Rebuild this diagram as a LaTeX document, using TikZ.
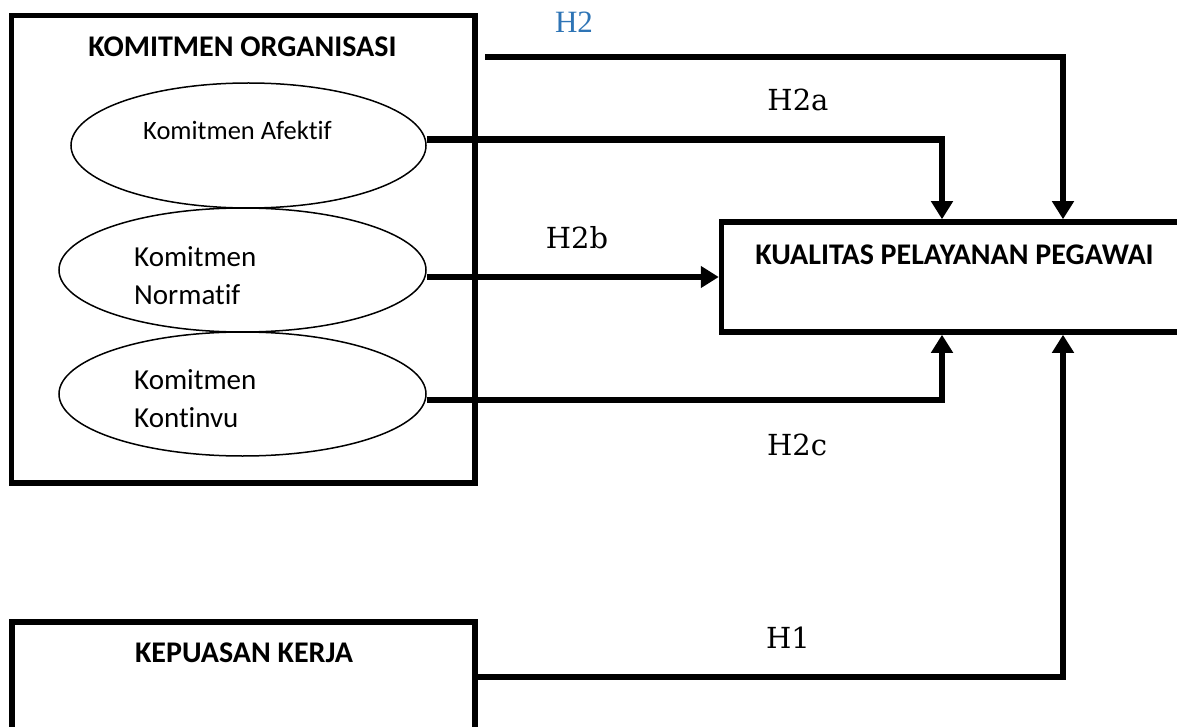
\documentclass[tikz,border=0pt]{standalone}
\usepackage{fontspec}
\setmainfont{Carlito}[Ligatures=NoCommon]
\newfontfamily\hypfont{DejaVu Serif}
\newfontfamily\hbluefont{Liberation Serif}
\usetikzlibrary{arrows.meta,shapes.geometric}
\definecolor{hblue}{RGB}{46,116,181}
\begin{document}
\begin{tikzpicture}[x=1pt,y=-1pt,
  box/.style={draw,rectangle,line width=5.5pt,inner sep=0pt},
  boxtitle/.style={font=\fontsize{30}{36}\selectfont\bfseries},
  oval/.style={draw,ellipse,line width=1.5pt,inner sep=0pt},
  ovaltext/.style={font=\fontsize{29}{38}\selectfont,align=left,anchor=west,inner sep=0pt},
  link/.style={line width=6.5pt},
  arrowed/.style={-{Triangle[width=21pt,length=18pt]}},
  hyp/.style={font=\hypfont\fontsize{29}{34}\selectfont}]
\clip (0,0) rectangle (1177,727);
% variabel X2 dan dimensinya
\node[box,minimum width=463.5pt,minimum height=467.5pt] (komitmen) at (243.25,249.25) {};
\node[boxtitle] (komitmentitle) at (242.5,47) {KOMITMEN ORGANISASI};
\node[oval,minimum width=355pt,minimum height=125pt] (afektif) at (248.5,145.5) {};
\node[oval,minimum width=367pt,minimum height=124pt] (normatif) at (242.5,270) {};
\node[oval,minimum width=367pt,minimum height=124pt] (kontinvu) at (242.5,394) {};
\node[ovaltext,font=\fontsize{26.5}{30}\selectfont] (afektiftext) at (143,130) {Komitmen Afektif};
\node[ovaltext] (normatiftext) at (134,276) {Komitmen\\Normatif};
\node[ovaltext] (kontinvutext) at (134,399) {Komitmen\\Kontinvu};
% variabel Y dan X1
\node[box,minimum width=473.5pt,minimum height=110pt] (kualitas) at (958.25,277) {};
\node[boxtitle] (kualitastitle) at (954.5,255) {KUALITAS PELAYANAN PEGAWAI};
\node[box,minimum width=463pt,minimum height=123pt] (kepuasan) at (243.5,683.5) {};
\node[boxtitle] (kepuasantitle) at (244,653) {KEPUASAN KERJA};
% hipotesis
\coordinate (h2start) at (485,57);
\coordinate (colA) at (942,0);
\coordinate (colB) at (1063,0);
\draw[link,arrowed] (h2start) -| (kualitas.north -| colB);
\draw[link,arrowed] ([yshift=6pt]afektif.east) -| (kualitas.north -| colA);
\draw[link,arrowed] (normatif.east |- kualitas.west) -- (kualitas.west);
\draw[link,arrowed] ([yshift=-6pt]kontinvu.east) -| (kualitas.south -| colA);
\draw[link,arrowed] ([yshift=6.5pt]kepuasan.east) -| (kualitas.south -| colB);
\node[font=\hbluefont\fontsize{31}{36}\selectfont,text=hblue] (h2) at (574,22) {H2};
\node[hyp] (h2a) at (798,100) {H2a};
\node[hyp] (h2b) at (577,238) {H2b};
\node[hyp] (h2c) at (797,445) {H2c};
\node[hyp] (h1) at (788,638) {H1};
\end{tikzpicture}
\end{document}
